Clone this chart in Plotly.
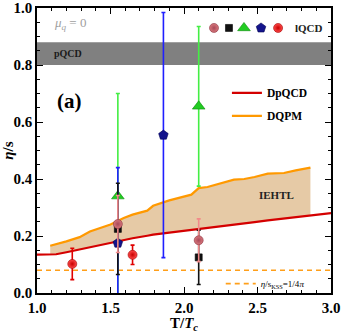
import numpy as np
import plotly.graph_objects as go

# ---------------- data ----------------
# DQPM (orange) curve
T_dqpm = [1.09, 1.20, 1.29, 1.36, 1.50, 1.59, 1.65, 1.75, 1.79, 1.90, 2.05, 2.10,
          2.16, 2.34, 2.41, 2.48, 2.57, 2.68, 2.76, 2.86]
eta_dqpm = [0.166, 0.181, 0.196, 0.216, 0.240, 0.263, 0.275, 0.289, 0.306, 0.325,
            0.345, 0.368, 0.372, 0.398, 0.400, 0.407, 0.419, 0.421, 0.430, 0.440]
# DpQCD (red) curve
T_dpqcd = [1.00, 1.09, 1.13, 1.20, 1.29, 1.36, 1.50, 1.59, 1.65, 1.75, 1.79, 1.90,
           2.05, 2.10, 2.16, 2.34, 2.41, 2.48, 2.57, 2.68, 2.76, 2.86, 3.00]
eta_dpqcd = [0.135, 0.135, 0.136, 0.143, 0.153, 0.160, 0.177, 0.186, 0.192, 0.201,
             0.205, 0.212, 0.221, 0.224, 0.228, 0.240, 0.245, 0.249, 0.255, 0.261,
             0.266, 0.273, 0.280]
# IEHTL band limits (between DpQCD and DQPM)
T_band_lo, T_band_hi = 1.09, 2.86

# KSS bound
eta_kss = 1.0 / (4.0 * np.pi)
T_kss = [1.0, 3.0]

# pQCD band
pqcd_lo, pqcd_hi = 0.80, 0.88

# lattice QCD points
T_pink = [1.55, 2.10]
eta_pink = [0.242, 0.185]
err_pink = [0.10, 0.075]

T_black = [1.55, 2.10]
eta_black = [0.225, 0.125]
err_black = [0.16, 0.095]

T_green = [1.55, 2.10]
eta_green = [0.34, 0.655]
err_green = [0.36, 0.28]

T_blue = [1.55, 1.86]
eta_blue = [0.175, 0.554]
err_blue = [0.265, 0.43]

T_red = [1.24, 1.65]
eta_red = [0.102, 0.134]
err_red = [0.055, 0.034]

x_ticks = [1.0, 1.5, 2.0, 2.5, 3.0]
y_ticks = [0.0, 0.2, 0.4, 0.6, 0.8, 1.0]

FONT = "Liberation Serif"

fig = go.Figure()

# IEHTL band: DQPM forward, DpQCD backward over the band range
red_in = [(t, v) for t, v in zip(T_dpqcd, eta_dpqcd) if T_band_lo <= t <= T_band_hi]
band_x = list(T_dqpm) + [t for t, _ in red_in][::-1]
band_y = list(eta_dqpm) + [v for _, v in red_in][::-1]
fig.add_trace(go.Scatter(x=band_x, y=band_y, fill="toself", mode="none",
                         fillcolor="rgb(230,202,166)", showlegend=False,
                         hoverinfo="skip"))

# KSS line
fig.add_trace(go.Scatter(x=T_kss, y=[eta_kss, eta_kss], mode="lines",
                         line=dict(color="#ff9f1a", width=1.6, dash="5px,4px"),
                         name="<i>η</i>/s<sub>KSS</sub>=1/4<i>π</i>",
                         legend="legend2", showlegend=True))

# curves
fig.add_trace(go.Scatter(x=T_dpqcd, y=eta_dpqcd, mode="lines",
                         line=dict(color="#d40000", width=2.2),
                         name="<b>DpQCD</b>", legendgroup="a"))
fig.add_trace(go.Scatter(x=T_dqpm, y=eta_dqpm, mode="lines",
                         line=dict(color="#ff9900", width=2.2),
                         name="<b>DQPM</b>", legendgroup="b"))

def marker_style(sym, col, gcol, size, lcol):
    m = dict(symbol=sym, size=size, color=col, line=dict(width=0.6, color=lcol))
    if gcol:
        m["gradient"] = dict(type="radial", color=gcol)
    return m

STYLE = {
    "green": ("triangle-up", "#22cc22", None, 11, "#0a8a0a"),
    "blue": ("pentagon", "#14148c", None, 10, "#000050"),
    "black": ("square", "#111111", None, 7, "#000000"),
    "pink": ("circle", "#d8787c", "#a84858", 9, "#8a3040"),
    "red": ("circle", "#ff4a4a", "#c80000", 9, "#a00000"),
}

def lat(x, y, e, ecol, key):
    fig.add_trace(go.Scatter(
        x=x, y=y, mode="markers", showlegend=False,
        error_y=dict(type="data", array=e, color=ecol, thickness=1.6, width=2),
        marker=marker_style(*STYLE[key])))

lat(T_green, eta_green, err_green, "#44ee44", "green")
lat(T_blue, eta_blue, err_blue, "#1f1fff", "blue")
lat(T_black, eta_black, err_black, "#111111", "black")
lat(T_pink, eta_pink, err_pink, "#f28a8a", "pink")
lat(T_red, eta_red, err_red, "#e00000", "red")

# lQCD key (glyph row drawn on a hidden 0..1 overlay axis)
key_order = ["pink", "black", "green", "blue", "red"]
key_x = [0.602, 0.653, 0.704, 0.762, 0.820]
for kx, k in zip(key_x, key_order):
    fig.add_trace(go.Scatter(x=[kx], y=[0.93], xaxis="x2", yaxis="y2", mode="markers",
                             showlegend=False, hoverinfo="skip",
                             marker=marker_style(*STYLE[k])))

# pQCD band
fig.add_shape(type="rect", xref="x", yref="y", x0=1.0, x1=3.0, y0=pqcd_lo, y1=pqcd_hi,
              fillcolor="#808080", line=dict(width=0), layer="below")

axis_common = dict(showline=True, linecolor="black", linewidth=1.5, mirror="ticks",
                   ticks="inside", ticklen=6, tickwidth=1.2, tickcolor="black",
                   showgrid=False, zeroline=False, automargin=False,
                   tickfont=dict(family=FONT, size=15, color="black"))

fig.update_layout(
    width=342, height=333,
    margin=dict(l=37, r=11, t=8, b=40),
    paper_bgcolor="white", plot_bgcolor="white",
    font=dict(family=FONT, color="black"),
    xaxis=dict(range=[1.0, 3.0], tickvals=x_ticks,
               ticktext=["<b>%.1f</b>" % v for v in x_ticks],
               minor=dict(dtick=0.1, ticks="inside", ticklen=3.5, tickcolor="black"),
               title=dict(text="<b>T/<i>T</i><sub><i>c</i></sub></b>",
                          font=dict(family=FONT, size=15), standoff=0),
               **axis_common),
    yaxis=dict(range=[0, 1.0], tickvals=y_ticks,
               ticktext=["<b>%.1f</b>" % v for v in y_ticks],
               minor=dict(dtick=0.05, ticks="inside", ticklen=3.5, tickcolor="black"),
               title=dict(text="<b><i>η</i>/s</b>",
                          font=dict(family=FONT, size=15), standoff=2),
               **axis_common),
    xaxis2=dict(overlaying="x", range=[0, 1], visible=False),
    yaxis2=dict(overlaying="y", range=[0, 1], visible=False),
    legend=dict(x=0.646, y=0.753, xanchor="left", yanchor="top",
                bgcolor="rgba(0,0,0,0)", traceorder="grouped", tracegroupgap=4,
                font=dict(family=FONT, size=11.5, color="black"), itemwidth=30),
    legend2=dict(x=0.625, y=-0.018, xanchor="left", yanchor="bottom",
                 bgcolor="rgba(0,0,0,0)",
                 font=dict(family=FONT, size=9, color="black"), itemwidth=30),
    annotations=[
        dict(text="<i>μ</i><sub><i>q</i></sub> = 0", xref="paper", yref="paper",
             x=0.05, y=0.944, xanchor="left", yanchor="middle", showarrow=False,
             font=dict(family=FONT, size=13, color="#a0a0a0")),
        dict(text="<b>pQCD</b>", xref="paper", yref="paper",
             x=0.05, y=0.842, xanchor="left", yanchor="middle", showarrow=False,
             font=dict(family=FONT, size=10, color="#1a1a1a")),
        dict(text="<b>(a)</b>", xref="paper", yref="paper",
             x=0.06, y=0.674, xanchor="left", yanchor="middle", showarrow=False,
             font=dict(family=FONT, size=21, color="black")),
        dict(text="<b>IEHTL</b>", xref="x", yref="y",
             x=2.63, y=0.344, xanchor="center", yanchor="middle", showarrow=False,
             font=dict(family=FONT, size=11, color="#222")),
        dict(text="<b>lQCD</b>", xref="paper", yref="paper",
             x=0.87, y=0.93, xanchor="left", yanchor="middle", showarrow=False,
             font=dict(family=FONT, size=11, color="#222")),
    ],
)

fig.write_html("out.html",
               config={"displayModeBar": False},
               post_script="document.body.style.margin='0';"
                           "document.body.style.overflow='hidden';")
